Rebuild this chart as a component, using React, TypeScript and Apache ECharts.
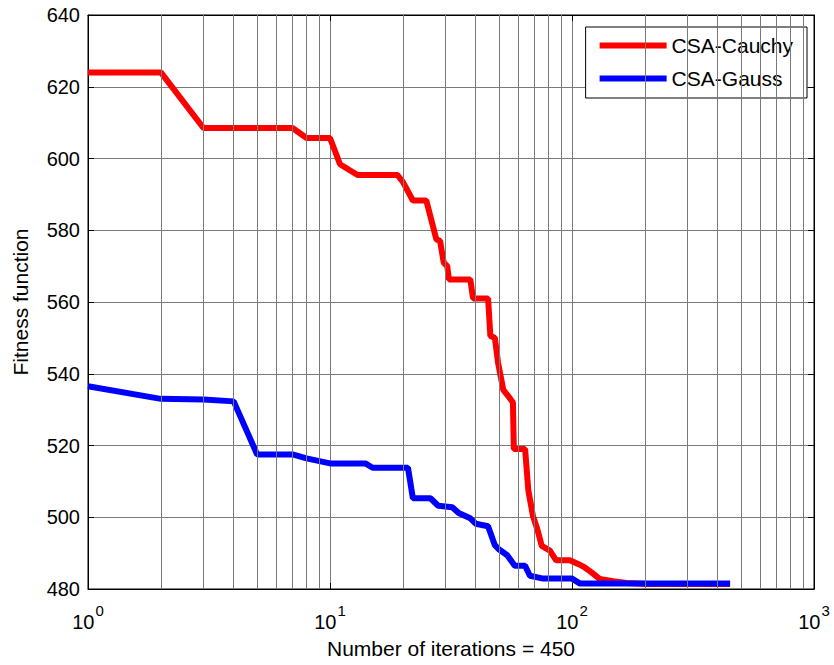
import React, { useEffect, useRef } from "react";
import * as echarts from "echarts";

const seriesNames = ["CSA-Cauchy", "CSA-Gauss"];

const cauchyData: [number, number][] = [
  [1, 624], [2, 624], [3, 608.5], [7, 608.5], [8, 605.7], [10, 605.7],
  [11, 598.4], [13, 595.4], [19, 595.4], [20, 593.5], [22, 588.3], [25, 588.3],
  [27.5, 577.5], [28.5, 577], [29.5, 571], [30.5, 570], [31, 566.3], [38, 566.3],
  [39, 561], [45, 561], [46, 550.5], [48, 550], [49.5, 543], [52, 535.5],
  [54.5, 533.8], [57, 532], [57.5, 519], [64, 519], [66, 507.5], [69, 500.3],
  [72, 496.5], [75, 492], [81, 490.7], [86, 488], [98, 488], [106, 487],
  [113, 486], [120, 484.7], [130, 482.8], [148, 482.2], [168, 481.7],
  [206, 481.4], [450, 481.4],
];

const gaussData: [number, number][] = [
  [1, 536.5], [2, 533], [3, 532.8], [4, 532.3], [5, 517.5], [7, 517.5],
  [8, 516.4], [10, 515], [14, 515], [15, 513.8], [21, 513.8], [22, 505.3],
  [26, 505.3], [28, 503.2], [32, 502.8], [34, 501.2], [38, 499.7], [40, 498.2],
  [45, 497.5], [48, 492.2], [50, 491], [54, 489.4], [58, 486.5], [64, 486.5],
  [67, 483.7], [76, 482.9], [100, 482.9], [108, 481.5], [450, 481.5],
];

const minorGridX = [
  2, 3, 4, 5, 6, 7, 8, 9,
  20, 30, 40, 50, 60, 70, 80, 90,
  200, 300, 400, 500, 600, 700, 800, 900,
];

const xMin = 1;
const xMax = 1000;
const yMin = 480;
const yMax = 640;
const yInterval = 20;

const FONT = "'Liberation Sans', Arial, sans-serif";
const GRID_COLOR = "#7a7a7a";

export default function App() {
  const ref = useRef<HTMLDivElement>(null);

  useEffect(() => {
    if (!ref.current) return;
    const chart = echarts.init(ref.current, undefined, { renderer: "svg" });
    const supFormatter = (v: number) =>
      `{base|10}{sup|${Math.round(Math.log10(v))}}`;
    chart.setOption({
      animation: false,
      backgroundColor: "#fff",
      textStyle: { fontFamily: FONT },
      grid: {
        left: 88,
        right: 20,
        top: 15,
        bottom: 76,
        outerBoundsMode: "none",
        containLabel: false,
        show: true,
        borderColor: "#000",
        borderWidth: 1,
        backgroundColor: "transparent",
      },
      legend: {
        data: seriesNames,
        orient: "vertical",
        right: 27,
        top: 27,
        itemWidth: 67,
        itemHeight: 6,
        itemGap: 12,
        icon: "rect",
        padding: [8, 14, 9, 14],
        borderColor: "#000",
        borderWidth: 1,
        backgroundColor: "#fff",
        textStyle: { fontSize: 21, color: "#000", fontFamily: FONT },
      },
      xAxis: [
        {
          type: "log",
          logBase: 10,
          min: xMin,
          max: xMax,
          name: "Number of iterations = 450",
          nameLocation: "middle",
          nameGap: 49,
          nameTextStyle: { fontSize: 21, color: "#000", fontFamily: FONT },
          axisLine: { show: true, lineStyle: { color: "#000", width: 1 } },
          axisTick: { show: true, inside: true, length: 6, lineStyle: { color: "#000" } },
          axisLabel: {
            color: "#000",
            margin: 18,
            formatter: supFormatter,
            rich: {
              base: { fontSize: 20, lineHeight: 20, padding: [10, 0, 0, 0], color: "#000", fontFamily: FONT },
              sup: { fontSize: 15, lineHeight: 16, padding: [0, 0, 14, 1], color: "#000", fontFamily: FONT },
            },
          },
          splitLine: { show: true, lineStyle: { color: GRID_COLOR, width: 1 } },
        },
        {
          type: "log",
          logBase: 10,
          min: xMin,
          max: xMax,
          position: "top",
          axisLine: { show: true, lineStyle: { color: "#000", width: 1 } },
          axisTick: { show: true, inside: true, length: 6, lineStyle: { color: "#000" } },
          axisLabel: { show: false },
          splitLine: { show: false },
        },
      ],
      yAxis: [
        {
          type: "value",
          min: yMin,
          max: yMax,
          interval: yInterval,
          name: "Fitness function",
          nameLocation: "middle",
          nameGap: 57,
          nameTextStyle: { fontSize: 21, color: "#000", fontFamily: FONT },
          axisLine: { show: true, lineStyle: { color: "#000", width: 1 } },
          axisTick: { show: true, inside: true, length: 6, lineStyle: { color: "#000" } },
          axisLabel: { fontSize: 20, color: "#000", margin: 8, fontFamily: FONT },
          splitLine: { show: true, lineStyle: { color: GRID_COLOR, width: 1 } },
        },
        {
          type: "value",
          min: yMin,
          max: yMax,
          interval: yInterval,
          position: "right",
          axisLine: { show: true, lineStyle: { color: "#000", width: 1 } },
          axisTick: { show: true, inside: true, length: 6, lineStyle: { color: "#000" } },
          axisLabel: { show: false },
          splitLine: { show: false },
        },
      ],
      series: [
        {
          name: "minorGrid",
          type: "line",
          data: [],
          z: 1,
          silent: true,
          markLine: {
            silent: true,
            symbol: ["none", "none"],
            label: { show: false },
            lineStyle: { color: GRID_COLOR, width: 1, type: "solid" },
            data: minorGridX.map((v) => ({ xAxis: v })),
          },
        },
        {
          name: seriesNames[0],
          type: "line",
          data: cauchyData,
          showSymbol: false,
          symbol: "none",
          z: 3,
          lineStyle: { color: "#ff0000", width: 6 },
          itemStyle: { color: "#ff0000" },
        },
        {
          name: seriesNames[1],
          type: "line",
          data: gaussData,
          showSymbol: false,
          symbol: "none",
          z: 4,
          lineStyle: { color: "#0000ff", width: 6 },
          itemStyle: { color: "#0000ff" },
        },
      ],
    });
    return () => chart.dispose();
  }, []);

  return <div ref={ref} style={{ width: 834, height: 665, position: "absolute", left: 0, top: 0 }} />;
}
